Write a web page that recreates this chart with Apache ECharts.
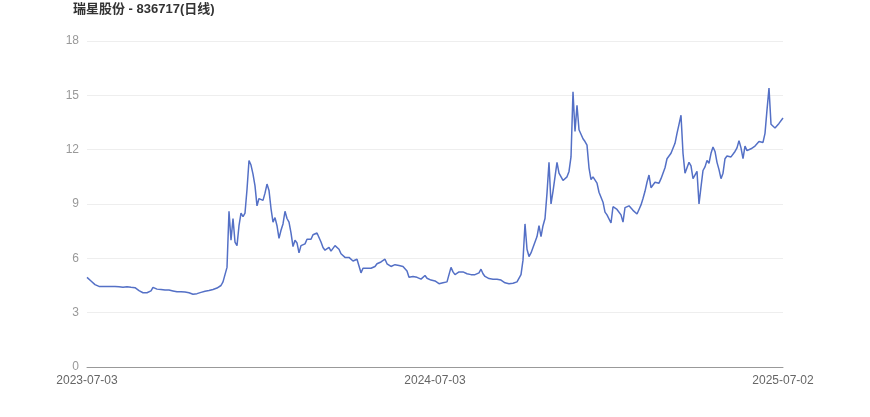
<!DOCTYPE html>
<html>
<head>
<meta charset="utf-8">
<script src="https://cdn.jsdelivr.net/npm/echarts@6/dist/echarts.min.js"></script>
<style>html,body{margin:0;padding:0;background:#fff}#c{width:870px;height:417px}</style>
</head>
<body>
<div id="c"></div>
<script>
const titleText = '瑞星股份 - 836717(日线)';
const tickLabels = ['2023-07-03', '2024-07-03', '2025-07-02'];
const yTicks = [0, 3, 6, 9, 12, 15, 18];
// closing prices (roughly every 2 px)
const prices = [
  4.95,4.85,4.75,4.65,4.55,4.47,4.45,4.45,4.45,4.45,4.45,4.43,4.45,4.45,4.45,4.45,4.43,4.4,4.4,4.45,
  4.43,4.4,4.4,4.4,4.38,4.3,4.22,4.15,4.1,4.1,4.1,4.12,4.2,4.4,4.3,4.3,4.3,4.28,4.26,4.25,
  4.25,4.25,4.22,4.2,4.16,4.15,4.15,4.16,4.15,4.14,4.12,4.1,4.06,4.02,4.0,4.05,4.1,4.12,4.15,4.18,
  4.2,4.22,4.25,4.28,4.32,4.36,4.42,4.5,4.7,5.1,
  5.5,8.6,7.0,8.2,6.9,6.7,7.8,8.5,8.3,8.5,9.8,11.4,11.15,10.65,10.0,8.9,9.3,9.2,9.2,9.6,
  10.1,9.75,8.75,8.0,8.25,7.8,7.1,7.55,7.9,8.6,8.2,8.0,7.4,6.65,7.0,6.85,6.3,6.7,6.7,6.8,
  7.05,7.1,7.05,7.3,7.2,7.4,7.3,6.9,6.6,6.45,6.4,6.6,6.4,6.5,6.7,6.6,6.5,6.25,6.15,6.05,
  6.05,6.05,6.0,5.85,5.95,5.95,5.85,5.2,5.45,5.45,5.45,5.5,5.45,5.35,5.55,5.7,5.75,5.8,5.85,5.95,
  5.7,5.6,5.55,5.6,5.65,5.65,5.6,5.55,5.55,5.45,5.3,4.95,4.85,5.0,4.95,4.95,4.9,4.85,4.8,5.05,
  4.9,4.85,4.8,4.78,4.75,4.7,4.6,4.55,4.65,4.7,4.7,4.65,5.5,5.25,5.1,5.0,5.25,5.35,5.25,5.2,
  5.15,5.1,5.1,5.1,5.1,5.12,5.2,5.4,5.15,5.0,4.9,4.88,4.85,4.85,4.85,4.85,4.82,4.8,4.75,4.65,
  4.6,4.6,4.6,4.62,4.65,4.7,4.8,5.1,5.9,7.9,6.5,6.1,6.3,6.4,6.9,7.2,7.8,7.2,7.8,8.2,
  9.6,11.3,9.0,9.7,10.5,11.3,10.7,10.8,10.3,10.3,10.5,10.8,11.6,15.2,13.0,14.45,13.1,13.15,12.6,12.45,
  12.25,11.0,10.35,10.5,10.5,10.15,9.65,9.55,9.1,8.55,8.4,8.3,7.95,8.85,8.75,8.7,8.8,8.4,8.0,8.8,
  8.9,8.9,8.8,8.65,8.65,8.45,8.7,8.95,9.3,9.7,10.2,10.6,9.9,10.05,10.2,10.3,10.15,10.4,10.4,11.0,
  11.5,11.5,11.8,11.75,12.35,12.9,13.4,13.9,11.8,10.7,10.8,11.3,11.1,10.4,10.4,10.8,9.0,9.95,10.85,11.05,
  11.4,11.25,11.8,12.15,11.9,11.3,10.9,10.4,10.7,11.5,11.65,11.7,11.6,11.7,11.9,12.1,12.5,12.1,11.5,12.2,
  11.95,11.95,12.05,12.1,12.2,12.3,12.45,12.35,12.4,12.9,14.2,15.4,13.4,13.35,13.2,13.3,13.45,13.55,13.75
];

function fmt(d) {
  const m = d.getUTCMonth() + 1, day = d.getUTCDate();
  return d.getUTCFullYear() + '-' + (m < 10 ? '0' : '') + m + '-' + (day < 10 ? '0' : '') + day;
}
const n = prices.length;
const mid = Math.floor((n - 1) / 2);
const t0 = Date.UTC(2023, 6, 3), t1 = Date.UTC(2024, 6, 3), t2 = Date.UTC(2025, 6, 2);
const dates = prices.map((_, i) => {
  if (i === 0) return tickLabels[0];
  if (i === mid) return tickLabels[1];
  if (i === n - 1) return tickLabels[2];
  const t = i < mid ? t0 + (t1 - t0) * i / mid : t1 + (t2 - t1) * (i - mid) / (n - 1 - mid);
  return fmt(new Date(Math.round(t / 86400000) * 86400000));
});

const chart = echarts.init(document.getElementById('c'));
chart.setOption({
  animation: false,
  title: {
    text: titleText, left: 68, top: -2,
    textStyle: { fontSize: 13, fontWeight: 'bold', color: '#333', fontFamily: 'Liberation Sans, Noto Sans CJK SC, sans-serif' }
  },
  grid: { left: 87, right: 87, top: 41, bottom: 50, containLabel: false },
  xAxis: {
    type: 'category', data: dates, boundaryGap: false,
    axisLine: { lineStyle: { color: '#999' } },
    axisTick: { show: false },
    axisLabel: {
      color: '#666', fontSize: 12, margin: 8,
      fontFamily: 'Liberation Sans, sans-serif',
      interval: (i) => i === 0 || i === mid || i === n - 1,
      showMinLabel: true, showMaxLabel: true
    }
  },
  yAxis: {
    type: 'value', min: yTicks[0], max: yTicks[yTicks.length - 1], interval: 3,
    axisLine: { show: false }, axisTick: { show: false },
    axisLabel: { color: '#999', fontSize: 12, margin: 8, fontFamily: 'Liberation Sans, sans-serif' },
    splitLine: { lineStyle: { color: '#eee' } }
  },
  series: [{
    type: 'line', data: prices, showSymbol: false, symbol: 'none',
    lineStyle: { color: '#5470c6', width: 1.5 },
    itemStyle: { color: '#5470c6' }
  }]
});
</script>
</body>
</html>
